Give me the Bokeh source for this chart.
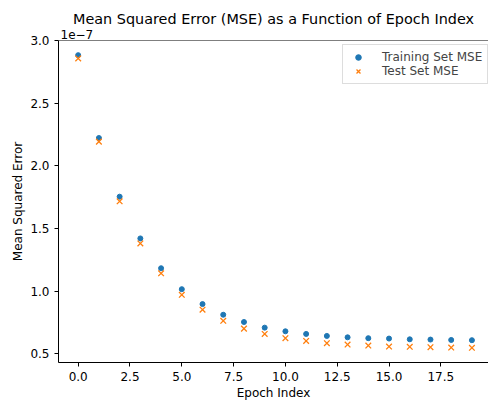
from bokeh.plotting import figure
from bokeh.models import (ColumnDataSource, Span, FixedTicker, Title,
                          CustomJSTickFormatter, NumeralTickFormatter, Legend, LegendItem)
from bokeh.embed import file_html
from bokeh.resources import INLINE

epochs = list(range(20))
train_mse = [2.883e-7, 2.222e-7, 1.754e-7, 1.421e-7, 1.183e-7, 1.016e-7, 0.897e-7,
             0.812e-7, 0.754e-7, 0.709e-7, 0.680e-7, 0.659e-7, 0.643e-7, 0.632e-7,
             0.625e-7, 0.622e-7, 0.616e-7, 0.614e-7, 0.611e-7, 0.609e-7]
test_mse = [2.857e-7, 2.193e-7, 1.717e-7, 1.381e-7, 1.143e-7, 0.971e-7, 0.852e-7,
            0.764e-7, 0.701e-7, 0.659e-7, 0.625e-7, 0.603e-7, 0.585e-7, 0.574e-7,
            0.566e-7, 0.558e-7, 0.556e-7, 0.553e-7, 0.550e-7, 0.548e-7]
x_ticks = [0, 2.5, 5, 7.5, 10, 12.5, 15, 17.5]
y_ticks = [0.5e-7, 1.0e-7, 1.5e-7, 2.0e-7, 2.5e-7, 3.0e-7]

FONT = "DejaVu Sans"
BLUE = "#1f77b4"
ORANGE = "#ff7f0e"

src = ColumnDataSource(dict(epoch=epochs, train=train_mse, test=test_mse))

p = figure(width=488, height=402, x_range=(-0.95, 19.8), y_range=(0.431e-7, 3.0e-7),
           output_backend="svg", toolbar_location=None, title=None,
           min_border_left=58, min_border_right=0, min_border_top=40, min_border_bottom=38)

exp_title = Title(text="1e\u22127", align="left", text_font=FONT, text_font_size="12px",
                  text_font_style="normal", text_color="black", standoff=3, offset=2)
main_title = Title(text="Mean Squared Error (MSE) as a Function of Epoch Index",
                   align="center", text_font=FONT, text_font_size="14.4px",
                   text_font_style="normal", text_color="black", standoff=0, offset=3)
p.add_layout(exp_title, "above")
p.add_layout(main_title, "above")

p.grid.visible = False
p.outline_line_color = None
p.background_fill_color = "white"
p.border_fill_color = "white"

for ax in (p.xaxis[0], p.yaxis[0]):
    ax.axis_line_color = "black"
    ax.major_tick_line_color = "black"
    ax.major_tick_in = 0
    ax.major_tick_out = 4
    ax.minor_tick_line_color = None
    ax.major_label_text_font = FONT
    ax.major_label_text_font_size = "12px"
    ax.major_label_text_color = "black"
    ax.axis_label_text_font = FONT
    ax.axis_label_text_font_size = "12px"
    ax.axis_label_text_font_style = "normal"
    ax.axis_label_text_color = "black"

p.xaxis.ticker = FixedTicker(ticks=x_ticks)
p.xaxis.formatter = NumeralTickFormatter(format="0.0")
p.xaxis.axis_label = "Epoch Index"
p.xaxis.axis_label_standoff = 2
p.yaxis.ticker = FixedTicker(ticks=y_ticks)
p.yaxis.formatter = CustomJSTickFormatter(code="return (tick*1e7).toFixed(1);")
p.yaxis.axis_label = "Mean Squared Error"
p.yaxis.axis_label_standoff = 2

top_spine = Span(location=3.0e-7, dimension="width", line_color="black", line_width=1)
p.add_layout(top_spine)

r1 = p.scatter("epoch", "train", source=src, marker="circle", size=5,
               fill_color=BLUE, line_color=BLUE)
r2 = p.scatter("epoch", "test", source=src, marker="x", size=8,
               line_color=ORANGE, line_width=1.3)

legend = Legend(items=[LegendItem(label="Training Set MSE", renderers=[r1]),
                       LegendItem(label="Test Set MSE", renderers=[r2])],
                location=(284, 278), margin=0)
legend.label_text_font = FONT
legend.label_text_font_size = "12px"
legend.label_text_line_height = 1.0
legend.label_standoff = 14
legend.glyph_width = 20
legend.glyph_height = 14
legend.label_height = 14
legend.spacing = 0
legend.padding = 5
legend.border_line_color = "#bbbbbb"
legend.border_line_width = 1
legend.background_fill_alpha = 0.8
p.add_layout(legend)

open("out.html", "w").write(file_html(p, INLINE))
